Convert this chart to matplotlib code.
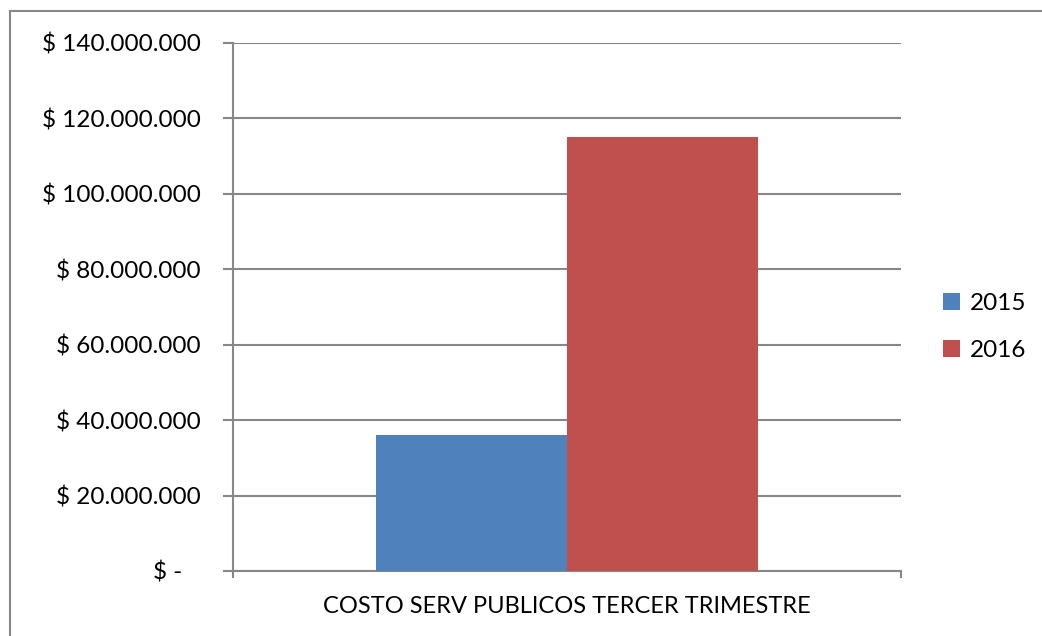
import matplotlib.pyplot as plt
from matplotlib.lines import Line2D
from matplotlib.ticker import FuncFormatter

categoria = "COSTO SERV PUBLICOS TERCER TRIMESTRE"
anios = ["2015", "2016"]
valores = [36000000, 115000000]
colores = ["#4F81BD", "#C0504D"]
y_ticks = [0, 20000000, 40000000, 60000000, 80000000, 100000000, 120000000, 140000000]


def pesos(v, pos=None):
    if v == 0:
        return "$ -   "
    return "$ " + f"{int(v):,}".replace(",", ".")


def main():
    plt.rcParams['font.family'] = ['Lato', 'DejaVu Sans']
    fig = plt.figure(figsize=(10.42, 6.36), dpi=100)
    ax = fig.add_axes([233 / 1042, 1 - 571 / 636, 668 / 1042, 528 / 636])

    ancho = 0.286
    for i, (anio, v) in enumerate(zip(anios, valores)):
        x = (i - 0.5) * ancho
        ax.bar(x, v, width=ancho, color=colores[i], label=anio, zorder=3)

    gris = "#878787"
    ax.set_xlim(-0.5, 0.5)
    ax.set_ylim(0, 140000000)
    ax.set_yticks(y_ticks)
    ax.yaxis.set_major_formatter(FuncFormatter(pesos))
    ax.grid(axis="y", color=gris, linewidth=1.5, zorder=0)
    ax.set_xticks([0])
    ax.set_xticklabels([categoria])
    ax.set_xticks([-0.5, 0.5], minor=True)
    ax.tick_params(axis="x", which="major", length=0, pad=18, labelsize=17)
    ax.tick_params(axis="x", which="minor", length=5, width=1.5, color=gris)
    ax.tick_params(axis="y", length=7, width=1.5, color=gris, pad=16, labelsize=17.5)
    for lado in ["top", "right"]:
        ax.spines[lado].set_visible(False)
    for lado in ["left", "bottom"]:
        ax.spines[lado].set_color(gris)
        ax.spines[lado].set_linewidth(1.5)

    ax.legend(loc="center left", bbox_to_anchor=(1.045, 0.462), frameon=False,
              fontsize=17.5, handlelength=0.7, handleheight=0.7, handletextpad=0.4,
              labelspacing=1.1, borderpad=0)

    # marco del grafico
    x0 = 10 / 1042
    y0 = 1 - 11 / 636
    fig.add_artist(Line2D([x0, 1], [y0, y0], color=gris, linewidth=1.5))
    fig.add_artist(Line2D([x0, x0], [0, y0], color=gris, linewidth=1.5))

    fig.savefig("out.png", dpi=100)


if __name__ == "__main__":
    main()
